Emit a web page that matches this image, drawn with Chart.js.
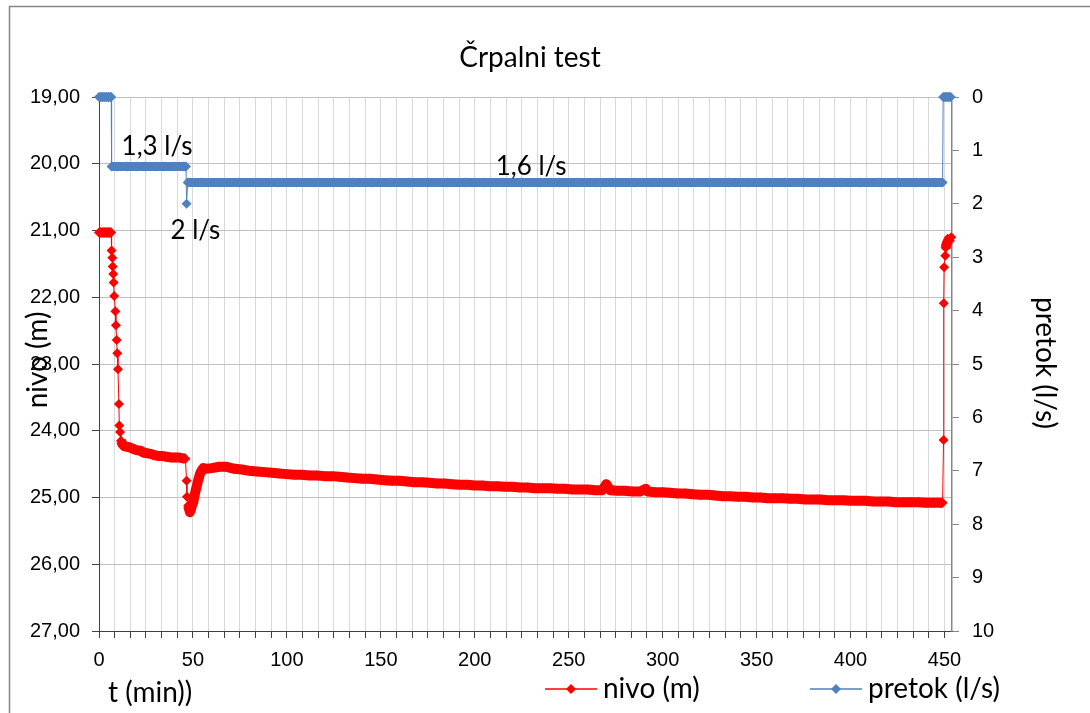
<!DOCTYPE html>
<html>
<head>
<meta charset="utf-8">
<title>Črpalni test</title>
<script src="https://cdn.jsdelivr.net/npm/chart.js@4.4.0/dist/chart.umd.min.js"></script>
<style>
  body { margin: 0; background: #fff; }
  #wrap { position: relative; width: 1090px; height: 713px; overflow: hidden; }
</style>
</head>
<body>
<div id="wrap"><canvas id="chart" width="1090" height="713"></canvas></div>
<script>
// nivo (m) - time in minutes and level
const nivoT = [0, 1, 2, 3, 4, 5, 6, 6.5,
  6.7, 7.1, 7.3, 7.6, 7.8, 8.1, 8.7, 9.0, 9.4, 9.7, 10.1, 10.6, 10.8, 11.2, 11.7,
  12.5, 13.5, 15, 16.5, 18, 20, 22, 24, 26, 28, 30, 32, 34, 36, 38, 40, 42, 44, 46,
  46.6, 46.8, 47.5, 48.0, 48.4, 49.0, 49.5, 50.2, 51, 52, 53, 53.7, 54.5, 55.5, 57, 60,
  64, 68, 72, 76, 80, 84, 88, 92, 96, 100, 104, 108, 112, 116, 120, 124, 128, 132, 136,
  140, 144, 148, 152, 156, 160, 164, 168, 172, 176, 180, 184, 188, 192, 196, 200, 204,
  208, 212, 216, 220, 224, 228, 232, 236, 240, 244, 248, 252, 256, 260, 264, 268, 270,
  272, 276, 280, 284, 288, 291, 292, 296, 300, 304, 308, 312, 316, 320, 324, 328, 332,
  336, 340, 344, 348, 352, 356, 360, 364, 368, 372, 376, 380, 384, 388, 392, 396, 400,
  404, 408, 412, 416, 420, 424, 428, 432, 436, 440, 444, 448, 449,
  449.5, 449.6, 449.8, 450.4, 450.6, 451.3, 452.2, 453.6];
const nivoV = [21.03, 21.03, 21.03, 21.03, 21.03, 21.03, 21.03, 21.03,
  21.30, 21.41, 21.54, 21.65, 21.78, 21.98, 22.21, 22.42, 22.64, 22.84, 23.08, 23.60, 23.92, 24.02, 24.15,
  24.20, 24.23, 24.24, 24.25, 24.27, 24.29, 24.30, 24.33, 24.34, 24.35, 24.37, 24.38, 24.38, 24.39, 24.40, 24.40, 24.40, 24.41, 24.42,
  24.75, 24.99, 25.12, 25.18, 25.22, 25.17, 25.12, 25.07, 24.95, 24.83, 24.72, 24.65, 24.60, 24.56, 24.57, 24.56,
  24.54, 24.54, 24.57, 24.58, 24.60, 24.61, 24.62, 24.63, 24.64, 24.65, 24.66, 24.66, 24.67, 24.67, 24.68, 24.68, 24.69, 24.70, 24.71,
  24.72, 24.72, 24.73, 24.74, 24.75, 24.75, 24.76, 24.77, 24.77, 24.78, 24.79, 24.79, 24.80, 24.81, 24.81, 24.82, 24.82,
  24.83, 24.83, 24.84, 24.84, 24.85, 24.85, 24.86, 24.86, 24.86, 24.87, 24.87, 24.88, 24.88, 24.88, 24.89, 24.89, 24.80,
  24.89, 24.90, 24.90, 24.91, 24.91, 24.87, 24.91, 24.92, 24.92, 24.93, 24.94, 24.94, 24.95, 24.96, 24.96, 24.97, 24.98,
  24.98, 24.99, 24.99, 25.00, 25.00, 25.01, 25.01, 25.01, 25.02, 25.02, 25.03, 25.03, 25.03, 25.04, 25.04, 25.04, 25.05,
  25.05, 25.05, 25.06, 25.06, 25.06, 25.07, 25.07, 25.07, 25.07, 25.08, 25.08, 25.08, 25.08,
  24.14, 22.09, 21.55, 21.38, 21.26, 21.19, 21.14, 21.10];

// pretok (l/s)
const pretokT = [0, 1, 2, 3, 4, 5, 6, 6.5,
  6.7, 10, 15, 20, 25, 30, 35, 40, 45, 46.3,
  46.6,
  47.2, 55, 65, 75, 85, 95, 105, 115, 125, 135, 145, 155, 165, 175, 185, 195, 205, 215, 225,
  235, 245, 255, 265, 275, 285, 295, 305, 315, 325, 335, 345, 355, 365, 375, 385, 395, 405,
  415, 425, 435, 445, 449,
  449.3, 450.3, 451.3, 452.3, 453.3];
const pretokV = [0, 0, 0, 0, 0, 0, 0, 0,
  1.3, 1.3, 1.3, 1.3, 1.3, 1.3, 1.3, 1.3, 1.3, 1.3,
  2.0,
  1.6, 1.6, 1.6, 1.6, 1.6, 1.6, 1.6, 1.6, 1.6, 1.6, 1.6, 1.6, 1.6, 1.6, 1.6, 1.6, 1.6, 1.6, 1.6,
  1.6, 1.6, 1.6, 1.6, 1.6, 1.6, 1.6, 1.6, 1.6, 1.6, 1.6, 1.6, 1.6, 1.6, 1.6, 1.6, 1.6, 1.6,
  1.6, 1.6, 1.6, 1.6, 1.6,
  0, 0, 0, 0, 0];

const xTickLabels = [0, 50, 100, 150, 200, 250, 300, 350, 400, 450];
const nivoTicks = [19, 20, 21, 22, 23, 24, 25, 26, 27];
const pretokTicks = [0, 1, 2, 3, 4, 5, 6, 7, 8, 9, 10];

const RED = '#ff0000';
const BLUE = '#4f81bd';
const TICK_FONT = { family: "'Liberation Sans', Arial, sans-serif", size: 20 };
const LABEL_FAMILY = "Lato, 'Open Sans', sans-serif";

// the original has a marker every few seconds, so flat runs read as a solid band.
// stroke that band through the same scales the datasets use.
function strokeBand(ctx, xs, ys, ts, vs, color, width) {
  ctx.strokeStyle = color;
  ctx.lineWidth = width;
  ctx.lineJoin = 'round';
  ctx.lineCap = 'butt';
  ctx.beginPath();
  let open = false;
  for (let k = 1; k < ts.length; k++) {
    const ax = xs.getPixelForValue(ts[k - 1]), ay = ys.getPixelForValue(vs[k - 1]);
    const bx = xs.getPixelForValue(ts[k]), by = ys.getPixelForValue(vs[k]);
    if (Math.abs(by - ay) <= 6 * Math.abs(bx - ax)) {
      if (!open) { ctx.moveTo(ax, ay); open = true; }
      ctx.lineTo(bx, by);
    } else {
      open = false;
    }
  }
  ctx.stroke();
}

const bands = {
  id: 'bands',
  afterDatasetsDraw(chart) {
    const ctx = chart.ctx;
    const s = chart.scales;
    ctx.save();
    strokeBand(ctx, s.x, s.y, nivoT, nivoV, RED, 10);
    strokeBand(ctx, s.x, s.y1, pretokT, pretokV, BLUE, 9);
    ctx.restore();
  }
};

const decor = {
  id: 'decor',
  afterDraw(chart) {
    const ctx = chart.ctx;
    const { x, y1 } = chart.scales;
    ctx.save();
    // outer chart frame
    ctx.strokeStyle = '#868686';
    ctx.lineWidth = 1.5;
    ctx.strokeRect(9.5, 6.5, 2000, 2000);

    ctx.fillStyle = '#000';
    ctx.textBaseline = 'alphabetic';
    ctx.textAlign = 'center';
    ctx.font = `28px ${LABEL_FAMILY}`;
    ctx.fillText('Črpalni test', 530, 67);

    ctx.textAlign = 'left';
    ctx.font = `26px ${LABEL_FAMILY}`;
    ctx.fillText('1,3 l/s', x.getPixelForValue(12), y1.getPixelForValue(1.08));
    ctx.fillText('2 l/s', x.getPixelForValue(38), y1.getPixelForValue(2.66));
    ctx.textAlign = 'center';
    ctx.fillText('1,6 l/s', x.getPixelForValue(230), y1.getPixelForValue(1.46));

    ctx.font = `28px ${LABEL_FAMILY}`;
    ctx.textAlign = 'left';
    ctx.fillText('t (min))', 108, 702);

    ctx.save();
    ctx.translate(47, 360);
    ctx.rotate(-Math.PI / 2);
    ctx.textAlign = 'center';
    ctx.fillText('nivo (m)', 0, 0);
    ctx.restore();

    ctx.save();
    ctx.translate(1036, 363);
    ctx.rotate(Math.PI / 2);
    ctx.textAlign = 'center';
    ctx.fillText('pretok (l/s)', 0, 0);
    ctx.restore();

    // legend: line with a diamond, as in the original
    const items = [
      { x0: 545, text: 'nivo (m)', color: RED },
      { x0: 810, text: 'pretok (l/s)', color: BLUE }
    ];
    items.forEach(it => {
      const ly = 689;
      ctx.strokeStyle = it.color;
      ctx.lineWidth = 1.5;
      ctx.beginPath();
      ctx.moveTo(it.x0, ly);
      ctx.lineTo(it.x0 + 52, ly);
      ctx.stroke();
      ctx.fillStyle = it.color;
      ctx.beginPath();
      const cx = it.x0 + 26;
      ctx.moveTo(cx, ly - 5);
      ctx.lineTo(cx + 5, ly);
      ctx.lineTo(cx, ly + 5);
      ctx.lineTo(cx - 5, ly);
      ctx.closePath();
      ctx.fill();
      ctx.fillStyle = '#000';
      ctx.textAlign = 'left';
      ctx.fillText(it.text, it.x0 + 58, 698);
    });
    ctx.restore();
  }
};

new Chart(document.getElementById('chart'), {
  type: 'line',
  data: {
    datasets: [
      {
        label: 'nivo (m)',
        data: nivoT.map((t, i) => ({ x: t, y: nivoV[i] })),
        yAxisID: 'y',
        borderColor: RED,
        backgroundColor: RED,
        borderWidth: 1,
        pointStyle: 'rectRot',
        pointRadius: 5,
        pointBorderWidth: 0,
        pointBackgroundColor: RED,
        tension: 0,
        clip: false
      },
      {
        label: 'pretok (l/s)',
        data: pretokT.map((t, i) => ({ x: t, y: pretokV[i] })),
        yAxisID: 'y1',
        borderColor: BLUE,
        backgroundColor: BLUE,
        borderWidth: 1,
        pointStyle: 'rectRot',
        pointRadius: 5,
        pointBorderWidth: 0,
        pointBackgroundColor: BLUE,
        tension: 0,
        clip: false
      }
    ]
  },
  options: {
    responsive: false,
    animation: false,
    devicePixelRatio: 1,
    layout: { padding: { top: 97, left: 0, right: 0, bottom: 0 } },
    plugins: { legend: { display: false }, title: { display: false }, tooltip: { enabled: false } },
    scales: {
      x: {
        type: 'linear',
        min: 0,
        max: 454,
        afterBuildTicks: s => {
          const t = [];
          for (let i = 0; i < xTickLabels.length - 1; i++) {
            for (let k = 0; k < 6; k++) {
              t.push({ value: xTickLabels[i] + k * (xTickLabels[i + 1] - xTickLabels[i]) / 6 });
            }
          }
          t.push({ value: xTickLabels[xTickLabels.length - 1] });
          s.ticks = t;
        },
        afterFit: s => { s.height = 82; },
        ticks: {
          autoSkip: false,
          maxRotation: 0,
          padding: 10,
          color: '#000',
          font: TICK_FONT,
          callback: v => xTickLabels.includes(v) ? String(v) : ''
        },
        grid: { color: '#d9d9d9', tickColor: '#404040', tickLength: 7, lineWidth: 1 },
        border: { color: '#404040', width: 1 }
      },
      y: {
        position: 'left',
        reverse: true,
        min: 19,
        max: 27,
        afterBuildTicks: s => { s.ticks = nivoTicks.map(v => ({ value: v })); },
        afterFit: s => { s.width = 99; },
        ticks: {
          padding: 12,
          color: '#000',
          font: TICK_FONT,
          callback: v => v.toFixed(2).replace('.', ',')
        },
        grid: { color: '#c0c0c0', tickColor: '#404040', tickLength: 7 },
        border: { color: '#404040', width: 1 }
      },
      y1: {
        position: 'right',
        reverse: true,
        min: 0,
        max: 10,
        afterBuildTicks: s => { s.ticks = pretokTicks.map(v => ({ value: v })); },
        afterFit: s => { s.width = 138; },
        ticks: { padding: 13, color: '#000', font: TICK_FONT },
        grid: { drawOnChartArea: false, tickColor: '#868686', tickLength: 7 },
        border: { color: '#868686', width: 1.5 }
      }
    }
  },
  plugins: [bands, decor]
});
</script>
</body>
</html>
